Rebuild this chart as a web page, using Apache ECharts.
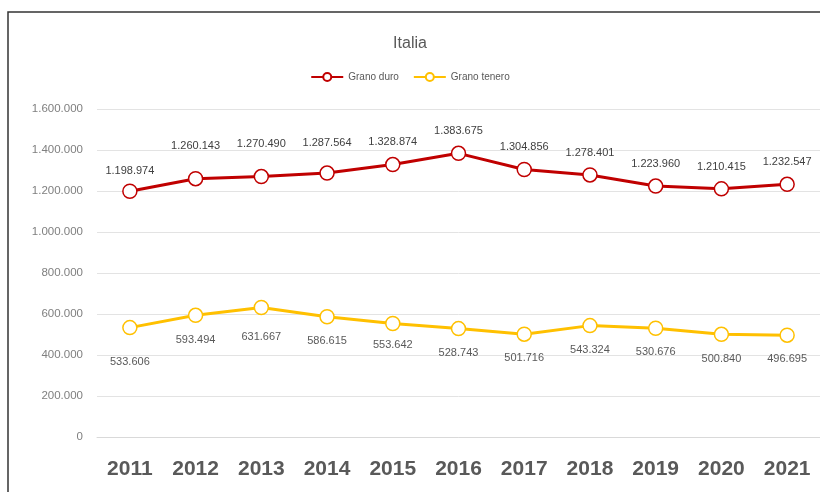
<!DOCTYPE html>
<html>
<head>
<meta charset="utf-8">
<script src="https://cdn.jsdelivr.net/npm/echarts@6/dist/echarts.min.js"></script>
<style>html,body{margin:0;padding:0;background:#fff}#c{width:820px;height:492px}</style>
</head>
<body>
<div id="c"></div>
<script>
const years = ['2011','2012','2013','2014','2015','2016','2017','2018','2019','2020','2021'];
const granoDuro = [1198974, 1260143, 1270490, 1287564, 1328874, 1383675, 1304856, 1278401, 1223960, 1210415, 1232547];
const granoTenero = [533606, 593494, 631667, 586615, 553642, 528743, 501716, 543324, 530676, 500840, 496695];
const seriesNames = ['Grano duro', 'Grano tenero'];
const yTicks = [0, 200000, 400000, 600000, 800000, 1000000, 1200000, 1400000, 1600000];

function fmt(v){ return String(v).replace(/\B(?=(\d{3})+(?!\d))/g, '.'); }

// manual label nudges (as in the original Excel chart)
const duroShift = {0: 2, 1: -10, 2: -10, 3: -8};
const teneroShift = {0: 10, 2: 5, 4: -3};

const chart = echarts.init(document.getElementById('c'), null, {renderer: 'canvas'});
chart.setOption({
  backgroundColor: '#fff',
  animation: false,
  title: {
    text: 'Italia', left: 'center', top: 31,
    textStyle: {fontFamily: 'Liberation Sans', fontSize: 16, fontWeight: 'normal', color: '#595959'}
  },
  legend: {
    top: 67, left: 'center', itemWidth: 32, itemHeight: 10, itemGap: 14,
    textStyle: {fontFamily: 'Liberation Sans', fontSize: 10, color: '#595959'},
    data: seriesNames
  },
  graphic: [{
    type: 'rect', shape: {x: 8, y: 12, width: 830, height: 500},
    style: {fill: 'none', stroke: '#333', lineWidth: 1.5}, silent: true, z: 100
  }],
  grid: {left: 97, right: -5, top: 109, bottom: 55, containLabel: false},
  xAxis: {
    type: 'category', data: years, boundaryGap: true,
    axisLine: {show: true, lineStyle: {color: '#d9d9d9'}},
    axisTick: {show: false},
    axisLabel: {fontFamily: 'Liberation Sans', fontSize: 21, fontWeight: 'bold', color: '#595959', margin: 22}
  },
  yAxis: {
    type: 'value', min: yTicks[0], max: yTicks[yTicks.length - 1], interval: 200000,
    axisLine: {show: false}, axisTick: {show: false},
    splitLine: {lineStyle: {color: '#e3e3e3', width: 1}},
    axisLabel: {fontFamily: 'Liberation Sans', fontSize: 11.5, color: '#7f7f7f', margin: 14, formatter: fmt}
  },
  series: [
    {
      name: seriesNames[0], type: 'line',
      data: granoDuro.map((v, i) => ({value: v, label: {offset: [0, duroShift[i] || 0]}})),
      lineStyle: {color: '#c00000', width: 3},
      itemStyle: {color: '#fff', borderColor: '#c00000', borderWidth: 1.5},
      symbol: 'circle', symbolSize: 14,
      label: {show: true, position: 'top', distance: 9, fontFamily: 'Liberation Sans', fontSize: 11, color: '#404040',
        formatter: p => fmt(p.value)}
    },
    {
      name: seriesNames[1], type: 'line',
      data: granoTenero.map((v, i) => ({value: v, label: {offset: [0, teneroShift[i] || 0]}})),
      lineStyle: {color: '#ffc000', width: 3},
      itemStyle: {color: '#fff', borderColor: '#ffc000', borderWidth: 1.5},
      symbol: 'circle', symbolSize: 14,
      label: {show: true, position: 'bottom', distance: 11, fontFamily: 'Liberation Sans', fontSize: 11, color: '#595959',
        formatter: p => fmt(p.value)}
    }
  ]
});
</script>
</body>
</html>
